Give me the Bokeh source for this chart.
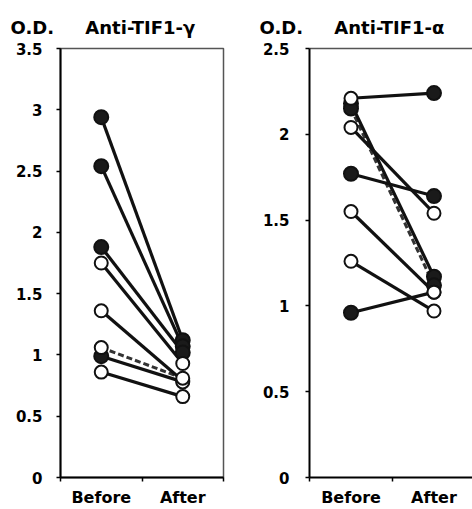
from bokeh.plotting import figure
from bokeh.layouts import row
from bokeh.models import (FixedTicker, CustomJSTickFormatter, LinearAxis,
                          Range1d, ColumnDataSource)
from bokeh.embed import file_html
from bokeh.resources import INLINE

# ---------------- data ----------------
categories = ["Before", "After"]
y_label = "O.D."

# Anti-TIF1-gamma (left panel)
g_title = "Anti-TIF1-\u03b3"
g_before = [2.94, 2.54, 1.88, 1.75, 1.36, 0.99, 0.86]
g_after = [1.12, 1.07, 1.02, 0.93, 0.79, 0.78, 0.66]
g_before_filled = [True, True, True, False, False, True, False]
g_after_filled = [True, True, True, False, False, False, False]
g_dashed = [1.06, 0.81]
g_dashed_filled = [False, False]
g_ticks = [0, 0.5, 1, 1.5, 2, 2.5, 3, 3.5]

# Anti-TIF1-alpha (right panel)
a_title = "Anti-TIF1-\u03b1"
a_before = [2.21, 2.18, 2.04, 1.77, 1.55, 1.26, 0.96]
a_after = [2.24, 1.17, 1.54, 1.64, 1.08, 0.97, 1.08]
a_before_filled = [False, True, False, True, False, False, True]
a_after_filled = [True, True, False, True, False, False, False]
a_dashed = [2.15, 1.12]
a_dashed_filled = [True, True]
a_ticks = [0, 0.5, 1, 1.5, 2, 2.5]

FONT = "DejaVu Sans"
NBSP = "\u00a0"


def panel(title, before, after, bfill, afill, dashed, dfill, ticks,
          width, border_left, border_right, x_end, ystand):
    ymax = ticks[-1]
    p = figure(width=width, height=509, output_backend="svg", toolbar_location=None,
               x_range=Range1d(0, x_end), y_range=Range1d(0, ymax),
               min_border_left=border_left, min_border_right=border_right,
               min_border_top=48, min_border_bottom=32)
    p.grid.visible = False
    p.background_fill_color = "white"
    p.border_fill_color = "white"

    p.title.text = y_label + NBSP * 5 + title
    p.title.align = "left"
    p.title.offset = -50
    p.title.text_font = FONT
    p.title.text_font_style = "bold"
    p.title.text_font_size = "18px"
    p.title.text_color = "black"
    p.title.standoff = 21

    xb, xa = 0.5, 1.5  # category centres

    p.line([xb, xa], dashed, line_color="#333333", line_width=3, line_dash="6 3")
    src = ColumnDataSource(dict(x0=[xb] * len(before), y0=before,
                                x1=[xa] * len(after), y1=after))
    p.segment("x0", "y0", "x1", "y1", source=src, line_color="#111111", line_width=3.2)

    pts_x, pts_y, pts_f = [], [], []
    for b, a, fb, fa in zip(before, after, bfill, afill):
        pts_x += [xb, xa]; pts_y += [b, a]; pts_f += [fb, fa]
    pts_x += [xb, xa]; pts_y += list(dashed); pts_f += list(dfill)
    fx = [x for x, f in zip(pts_x, pts_f) if f]
    fy = [y for y, f in zip(pts_y, pts_f) if f]
    ox = [x for x, f in zip(pts_x, pts_f) if not f]
    oy = [y for y, f in zip(pts_y, pts_f) if not f]
    p.scatter(fx, fy, size=14, fill_color="#1a1a1a", line_color="#111111", line_width=2)
    p.scatter(ox, oy, size=13, fill_color="white", line_color="#111111", line_width=2)

    ya = p.yaxis[0]
    ya.ticker = FixedTicker(ticks=ticks, minor_ticks=[])
    ya.formatter = CustomJSTickFormatter(code="return tick.toString()")
    ya.major_tick_out = 4
    ya.major_tick_in = 0
    ya.major_tick_line_width = 1.5
    ya.major_label_standoff = ystand
    ya.axis_line_width = 2
    ya.axis_line_color = "black"
    ya.major_label_text_font = FONT
    ya.major_label_text_font_style = "bold"
    ya.major_label_text_font_size = "15px"
    ya.major_label_text_color = "black"

    xa_ = p.xaxis[0]
    xa_.ticker = FixedTicker(ticks=[0.5, 1.5], minor_ticks=[0, 1, 2])
    xa_.formatter = CustomJSTickFormatter(args=dict(labels=categories),
                                          code="return labels[Math.round(tick - 0.5)]")
    xa_.major_tick_out = 0
    xa_.major_tick_in = 0
    xa_.minor_tick_out = 4
    xa_.minor_tick_in = 0
    xa_.minor_tick_line_width = 1.5
    xa_.major_label_standoff = 6
    xa_.axis_line_width = 2
    xa_.axis_line_color = "black"
    xa_.major_label_text_font = FONT
    xa_.major_label_text_font_style = "bold"
    xa_.major_label_text_font_size = "16px"
    xa_.major_label_text_color = "black"
    return p


p1 = panel(g_title, g_before, g_after, g_before_filled, g_after_filled,
           g_dashed, g_dashed_filled, g_ticks,
           width=248, border_left=60, border_right=25, x_end=2, ystand=14)
p1.outline_line_color = "#555555"
p1.outline_line_width = 1.5

p2 = panel(a_title, a_before, a_after, a_before_filled, a_after_filled,
           a_dashed, a_dashed_filled, a_ticks,
           width=224, border_left=61, border_right=0, x_end=1.964, ystand=16)
p2.outline_line_color = None
top = LinearAxis(major_tick_out=0, major_tick_in=0, minor_tick_out=0, minor_tick_in=0,
                 major_label_text_font_size="0px", axis_line_color="#555555",
                 axis_line_width=1.5, ticker=FixedTicker(ticks=[], minor_ticks=[]))
p2.add_layout(top, "above")

layout = row(p1, p2)
open("out.html", "w").write(file_html(layout, INLINE))
